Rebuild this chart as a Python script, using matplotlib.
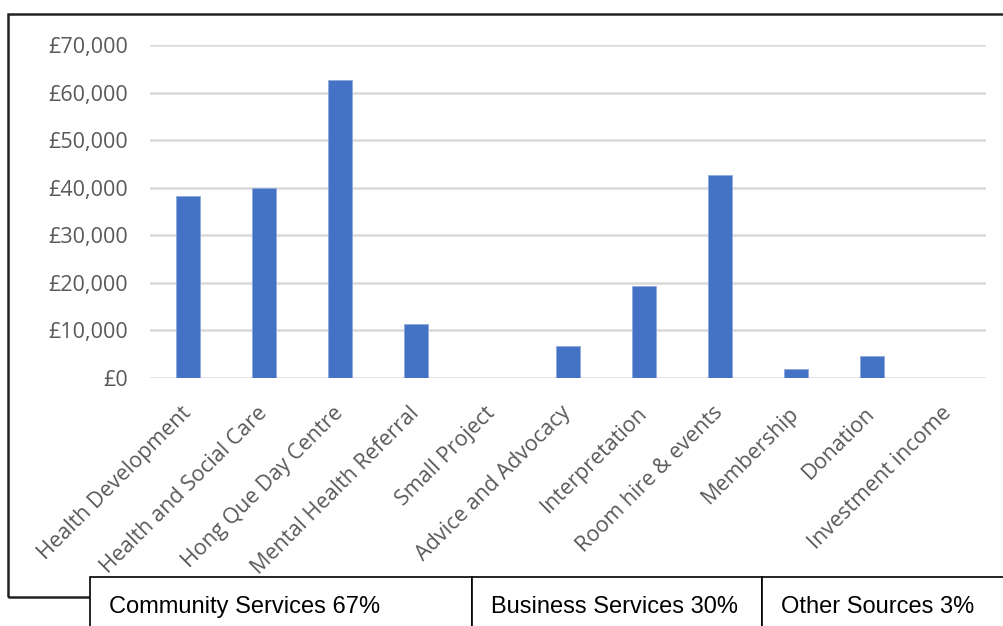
import matplotlib.pyplot as plt
from matplotlib.patches import Rectangle
from matplotlib.ticker import FuncFormatter

# income by source
categories = ['Health Development', 'Health and Social Care', 'Hong Que Day Centre',
              'Mental Health Referral', 'Small Project', 'Advice and Advocacy',
              'Interpretation', 'Room hire & events', 'Membership', 'Donation',
              'Investment income']
income = [38300, 40000, 62600, 11300, 0, 6700, 19400, 42700, 1900, 4600, 0]
yticks = [0, 10000, 20000, 30000, 40000, 50000, 60000, 70000]
groups = ['Community Services 67%', 'Business Services 30%', 'Other Sources 3%']
group_edges = [90, 472, 762, 1010]  # pixel x of table cell borders

W, H = 1004, 626
fig = plt.figure(figsize=(W / 100, H / 100), dpi=100, facecolor='white')

# outer chart frame
fig.add_artist(Rectangle((8 / W, (H - 597) / H), 1.2, (597 - 14) / H,
                         transform=fig.transFigure, fill=False, ec='#222222', lw=1.8))

ax = fig.add_axes([150 / W, (H - 378) / H, 836 / W, 333 / H])
x = range(len(categories))
ax.bar(x, income, width=0.32, color='#4472C4', edgecolor='#8FAADC', lw=0.6, zorder=3)
ax.set_xlim(-0.5, len(categories) - 0.5)
ax.set_ylim(0, 70000)
ax.set_yticks(yticks)
ax.yaxis.set_major_formatter(FuncFormatter(lambda v, p: '£{:,.0f}'.format(v)))
ax.grid(axis='y', color='#D9D9D9', lw=1.8, zorder=0)
for s in ax.spines.values():
    s.set_visible(False)
ax.tick_params(length=0, colors='#595959', labelsize=15.5)
ax.tick_params(axis='y', pad=16)
ax.tick_params(axis='x', pad=23)
ax.set_xticks(list(x))
ax.set_xticklabels(categories, rotation=45, ha='right', va='center',
                   rotation_mode='anchor', family='Open Sans')
for t in ax.get_yticklabels():
    t.set_family('Open Sans')

# group table under the chart
for i, label in enumerate(groups):
    x0, x1 = group_edges[i], group_edges[i + 1]
    fig.add_artist(Rectangle((x0 / W, -0.1), (x1 - x0) / W, (H - 577) / H + 0.1,
                             transform=fig.transFigure, fc='white', ec='black', lw=1.2))
    fig.text((x0 + 19) / W, (H - 607) / H, label, fontsize=17,
             family='Liberation Sans', va='center', ha='left')

fig.savefig('out.png', dpi=100, facecolor='white')
